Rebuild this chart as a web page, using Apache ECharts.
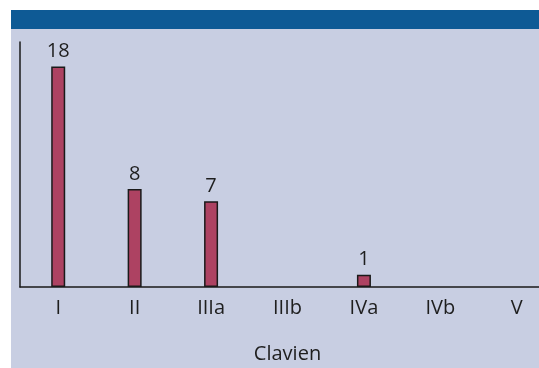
<!DOCTYPE html>
<html>
<head>
<meta charset="utf-8">
<script src="https://cdn.jsdelivr.net/npm/echarts@6/dist/echarts.min.js"></script>
<style>
  html, body { margin: 0; padding: 0; background: #ffffff; }
  #chart { width: 539px; height: 368px; }
</style>
</head>
<body>
<div id="chart"></div>
<script>
// Clavien grade categories and the number of cases in each
const categories = ['I', 'II', 'IIIa', 'IIIb', 'IVa', 'IVb', 'V'];
const counts = [18, 8, 7, null, 1, null, null];
const axisTitle = 'Clavien';

const FONT = '"Open Sans", "DejaVu Sans", sans-serif';

const chart = echarts.init(document.getElementById('chart'), null, { renderer: 'canvas' });

chart.setOption({
  backgroundColor: '#ffffff',
  animation: false,
  graphic: [
    // panel background
    { type: 'rect', z: -10, shape: { x: 11, y: 29, width: 528, height: 339 }, style: { fill: '#c8cee2' } },
    // header band
    { type: 'rect', z: -10, shape: { x: 11, y: 10, width: 528, height: 19 }, style: { fill: '#0e5a95' } }
  ],
  // plot area runs past the right edge of the canvas
  grid: { left: 20, width: 535, top: 42, height: 245, outerBoundsMode: 'none', containLabel: false },
  xAxis: {
    type: 'category',
    data: categories,
    name: axisTitle,
    nameLocation: 'middle',
    nameGap: 57,
    nameTextStyle: { fontFamily: FONT, fontSize: 20, color: '#1e1e1e' },
    axisLine: { show: true, lineStyle: { color: '#1a1a1a', width: 1.5 } },
    axisTick: { show: false },
    axisLabel: { fontFamily: FONT, fontSize: 20, color: '#1e1e1e', margin: 11 },
    splitLine: { show: false }
  },
  yAxis: {
    type: 'value',
    min: 0,
    max: 20,
    axisLine: { show: true, lineStyle: { color: '#1a1a1a', width: 1.5 } },
    axisTick: { show: false },
    axisLabel: { show: false },
    splitLine: { show: false }
  },
  series: [{
    type: 'bar',
    data: counts,
    barWidth: 14,
    itemStyle: { color: '#ad4262', borderColor: '#1a1a1a', borderWidth: 1.5 },
    label: {
      show: true,
      position: 'top',
      distance: 5,
      fontFamily: FONT,
      fontSize: 20,
      color: '#1e1e1e'
    }
  }]
});
</script>
</body>
</html>
